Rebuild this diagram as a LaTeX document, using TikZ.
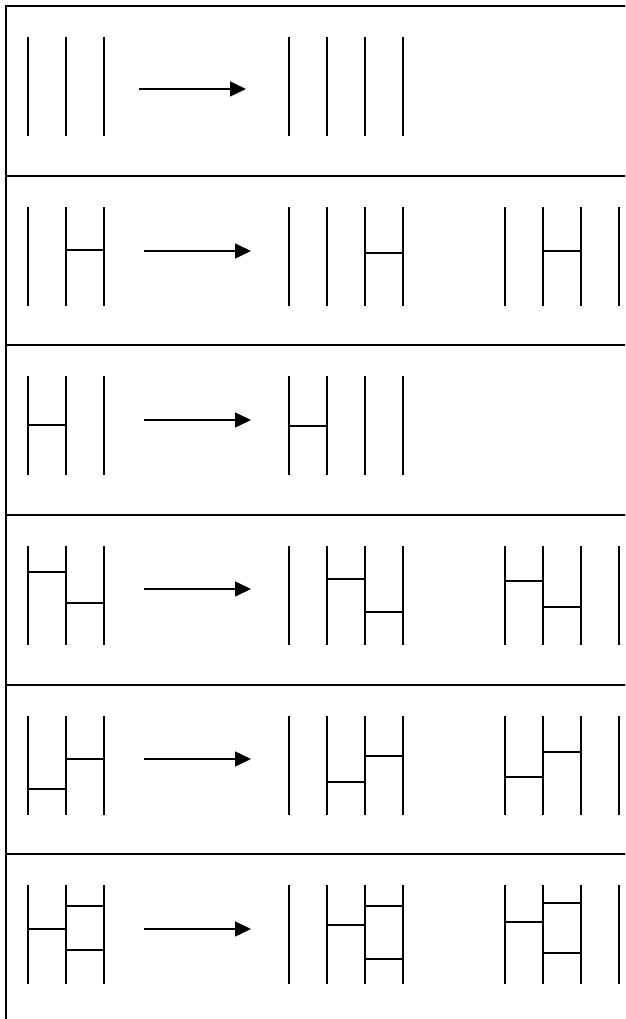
\documentclass[tikz,border=0pt]{standalone}
\usetikzlibrary{arrows.meta}
\tikzset{
  frameline/.style={line width=2.3pt},
  strand/.style={line width=1.7pt},
  rung/.style={line width=1.5pt},
  maparrow/.style={line width=1.5pt,-{Triangle[length=16pt,width=15pt]}}
}
\begin{document}
\begin{tikzpicture}[x=1pt,y=-1pt]
\useasboundingbox (0,0) rectangle (625,1019);
\clip (0,0) rectangle (625,1019);
% frame and separators
\draw[frameline] (6,1030) -- (6,6) -- (630,6);
\foreach \s in {176,345,515,685,854}{
  \draw[frameline] (6,\s) -- (630,\s);
}
% vertical strands
\foreach \s in {6,176,345,515,685,854}{
  \foreach \x in {28,66,104,289,327,365,403}{
    \draw[strand] (\x,\s+31) -- (\x,\s+130);
  }
}
\foreach \s in {176,515,685,854}{
  \foreach \x in {505,543,581,619}{
    \draw[strand] (\x,\s+31) -- (\x,\s+130);
  }
}
% rungs: x-left / x-right / y
\foreach \a/\b/\y in {
  66/104/250, 365/403/253, 543/581/251,
  28/66/425, 289/327/426,
  28/66/572, 66/104/603, 327/365/579, 365/403/612, 505/543/581, 543/581/607,
  28/66/789, 66/104/759, 327/365/782, 365/403/756, 505/543/777, 543/581/752,
  28/66/929, 66/104/906, 66/104/950, 327/365/925, 365/403/906, 365/403/959,
  505/543/922, 543/581/903, 543/581/953}{
  \draw[rung] (\a,\y) -- (\b,\y);
}
% arrows
\coordinate (a1s) at (139,89);  \coordinate (a1e) at (246,89);
\coordinate (a2s) at (144,251); \coordinate (a2e) at (251,251);
\coordinate (a3s) at (144,420); \coordinate (a3e) at (251,420);
\coordinate (a4s) at (144,589); \coordinate (a4e) at (251,589);
\coordinate (a5s) at (144,759); \coordinate (a5e) at (251,759);
\coordinate (a6s) at (144,929); \coordinate (a6e) at (251,929);
\foreach \i in {1,...,6}{
  \draw[maparrow] (a\i s) -- (a\i e);
}
\end{tikzpicture}
\end{document}
